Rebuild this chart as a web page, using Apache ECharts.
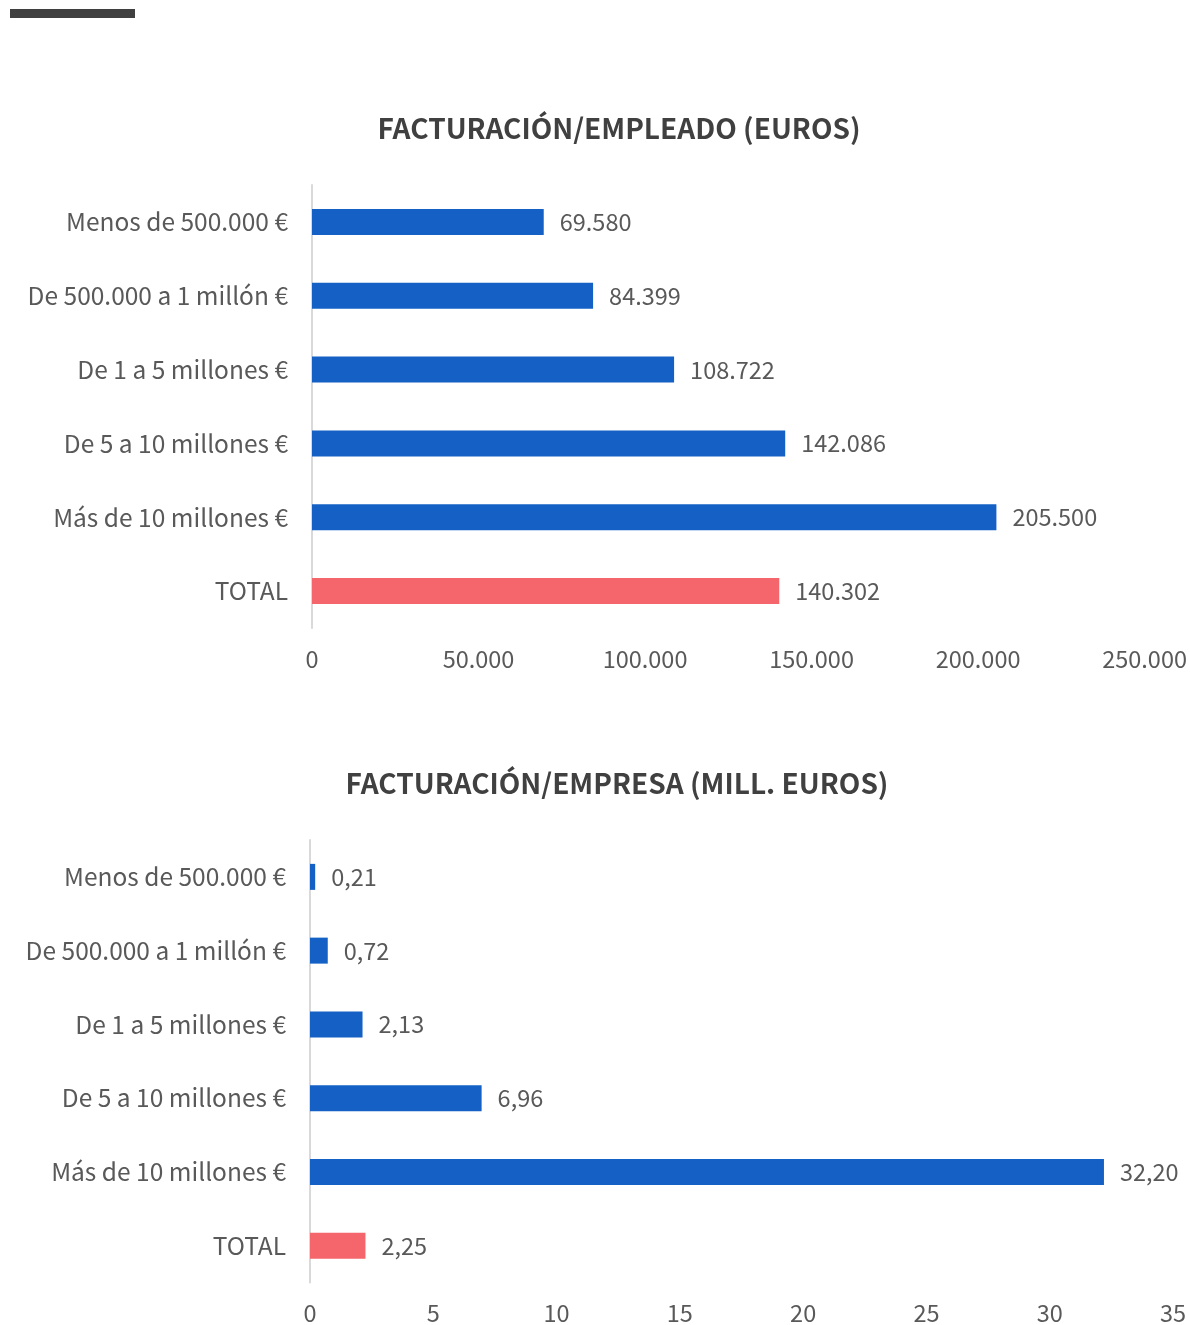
<!DOCTYPE html>
<html>
<head>
<meta charset="utf-8">
<script src="https://cdn.jsdelivr.net/npm/echarts@6/dist/echarts.min.js"></script>
<style>
  html, body { margin: 0; padding: 0; background: #fff; }
  #main { width: 1190px; height: 1325px; }
</style>
</head>
<body>
<div id="main"></div>
<script>
// categorias (de arriba a abajo)
var categorias = ['Menos de 500.000 €', 'De 500.000 a 1 millón €', 'De 1 a 5 millones €',
  'De 5 a 10 millones €', 'Más de 10 millones €', 'TOTAL'];
var factEmpleado = [69580, 84399, 108722, 142086, 205500, 140302];
var factEmpresa = [0.21, 0.72, 2.13, 6.96, 32.20, 2.25];
var titulos = ['FACTURACIÓN/EMPLEADO (EUROS)', 'FACTURACIÓN/EMPRESA (MILL. EUROS)'];

var AZUL = '#1560c4', ROJO = '#f4666b', GRIS = '#595959';
var FUENTE = '"Noto Sans CJK JP", "Noto Sans", sans-serif';

function miles(v) {
  return String(Math.round(v)).replace(/\B(?=(\d{3})+(?!\d))/g, '.');
}
function decimal(v) {
  return v.toFixed(2).replace('.', ',');
}
function colorear(arr) {
  return arr.map(function (v, i) {
    return { value: v, itemStyle: { color: categorias[i] == 'TOTAL' ? ROJO : AZUL } };
  });
}

var myChart = echarts.init(document.getElementById('main'));

var ejeY = function (idx) {
  return {
    type: 'category', gridIndex: idx, inverse: true, data: categorias,
    axisLine: { show: true, lineStyle: { color: '#d9d9d9', width: 2 } },
    axisTick: { show: false },
    axisLabel: { color: GRIS, fontSize: 24.5, fontFamily: FUENTE, margin: 24 }
  };
};
var ejeX = function (idx, max, interval, fmt) {
  return {
    type: 'value', gridIndex: idx, min: 0, max: max, interval: interval,
    axisLine: { show: false }, axisTick: { show: false },
    splitLine: { show: false },
    axisLabel: { color: GRIS, fontSize: 23.5, fontFamily: FUENTE, margin: 19, formatter: fmt }
  };
};

myChart.setOption({
  animation: false,
  title: [
    { text: titulos[0], left: 614, top: 109, textAlign: 'center',
      textStyle: { color: '#404040', fontSize: 28, fontWeight: 'bold', fontFamily: FUENTE } },
    { text: titulos[1], left: 612, top: 764, textAlign: 'center',
      textStyle: { color: '#404040', fontSize: 28, fontWeight: 'bold', fontFamily: FUENTE } }
  ],
  graphic: [{
    type: 'rect', shape: { x: 10, y: 9, width: 125, height: 9 },
    style: { fill: '#404040' }
  }],
  grid: [
    { left: 312, right: 45, top: 185, height: 443 },
    { left: 310, right: 17, top: 840, height: 443 }
  ],
  xAxis: [
    ejeX(0, 250000, 50000, function (v) { return miles(v); }),
    ejeX(1, 35, 5, function (v) { return String(v); })
  ],
  yAxis: [ejeY(0), ejeY(1)],
  series: [
    {
      type: 'bar', xAxisIndex: 0, yAxisIndex: 0, barWidth: 26,
      data: colorear(factEmpleado),
      label: { show: true, position: 'right', distance: 16, color: GRIS, fontSize: 23.5,
        fontFamily: FUENTE, formatter: function (p) { return miles(p.value); } }
    },
    {
      type: 'bar', xAxisIndex: 1, yAxisIndex: 1, barWidth: 26,
      data: colorear(factEmpresa),
      label: { show: true, position: 'right', distance: 16, color: GRIS, fontSize: 23.5,
        fontFamily: FUENTE, formatter: function (p) { return decimal(p.value); } }
    }
  ]
});
</script>
</body>
</html>
